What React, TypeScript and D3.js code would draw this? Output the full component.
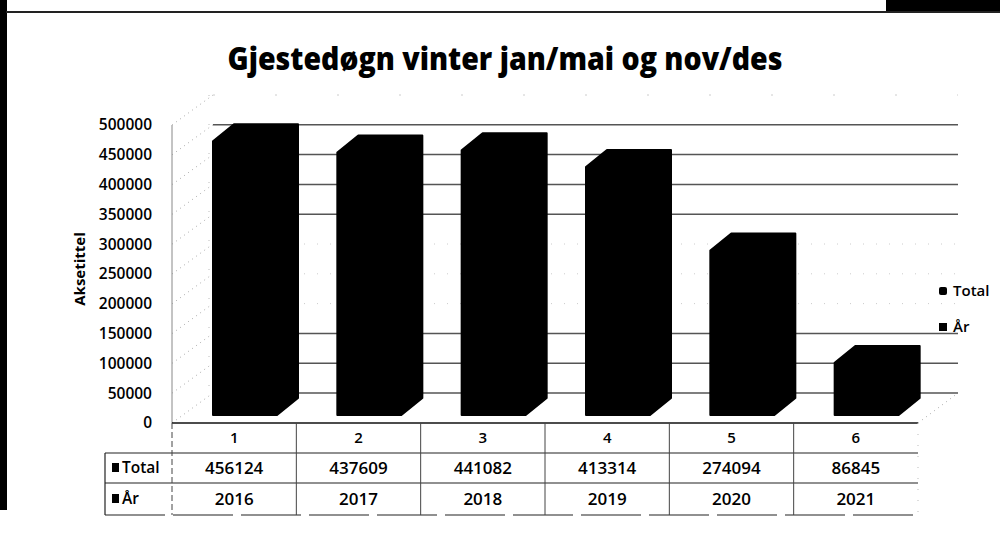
import { useEffect, useRef } from 'react';
import * as d3 from 'd3';

const categories = ['1', '2', '3', '4', '5', '6'];
const totals = [456124, 437609, 441082, 413314, 274094, 86845];
const years = ['2016', '2017', '2018', '2019', '2020', '2021'];
const seriesNames = ['Total', 'År'];
const titleText = 'Gjestedøgn vinter jan/mai og nov/des';
const axisTitle = 'Aksetittel';
// gridlines that barely survived the scan
const faintTicks = [150000, 200000, 250000];

const W = 1000;
const H = 539;
const FONT = '"Open Sans", sans-serif';

const App: React.FC = () => {
  const svgRef = useRef<SVGSVGElement>(null);

  useEffect(() => {
    if (!svgRef.current) return;
    const svg = d3.select(svgRef.current);
    svg.selectAll('*').remove();

    const x = d3.scaleBand<string>().domain(categories).range([172, 918]);
    const yFront = d3.scaleLinear().domain([0, 500000]).range([423, 125]);
    const yWall = d3.scaleLinear().domain([0, 500000]).range([393, 95]);
    const yBar = d3.scaleLinear().domain([0, 500000]).range([415, 115]);
    const ticks = yFront.ticks(10);

    const wallLeft = 213, wallRight = 958;
    const barOffset = 41, barW = 64, depthX = 21, depthY = 17;
    const tableLeft = 105;
    const rowY = [423, 453, 483, 515];

    // scan frame
    svg.append('rect').attr('x', 0).attr('y', 0).attr('width', 7).attr('height', 510).attr('fill', '#000');
    svg.append('rect').attr('x', 886).attr('y', 0).attr('width', 114).attr('height', 11).attr('fill', '#000');
    svg.append('line')
      .attr('x1', 6).attr('x2', W).attr('y1', 12).attr('y2', 12)
      .attr('stroke', '#222').attr('stroke-width', 2);

    // title
    svg.append('text')
      .attr('x', 505).attr('y', 70)
      .attr('text-anchor', 'middle')
      .attr('textLength', 555).attr('lengthAdjust', 'spacingAndGlyphs')
      .style('font-family', FONT).style('font-weight', 800).style('font-size', '31px')
      .text(titleText);

    // back wall grid
    const grid = svg.append('g');
    ticks.filter(t => t < 500000).forEach(t => {
      const faint = faintTicks.includes(t);
      grid.append('line')
        .attr('x1', wallLeft).attr('x2', wallRight)
        .attr('y1', yWall(t)).attr('y2', yWall(t))
        .attr('stroke', faint ? '#ccc' : '#555')
        .attr('stroke-width', faint ? 1 : 1.5)
        .attr('stroke-dasharray', faint ? '1,12' : null);
    });
    grid.append('line')
      .attr('x1', wallLeft).attr('x2', wallRight)
      .attr('y1', yWall(500000)).attr('y2', yWall(500000))
      .attr('stroke', '#ccc').attr('stroke-dasharray', '2,60');
    grid.append('line')
      .attr('x1', wallLeft - 4).attr('x2', wallLeft - 4)
      .attr('y1', yWall(500000)).attr('y2', yWall(0))
      .attr('stroke', '#bbb').attr('stroke-dasharray', '1,28');

    // depth diagonals from front axis to wall
    ticks.forEach(t => {
      grid.append('line')
        .attr('x1', 172).attr('y1', yFront(t))
        .attr('x2', wallLeft).attr('y2', yWall(t))
        .attr('stroke', '#aaa').attr('stroke-width', 1)
        .attr('stroke-dasharray', '1,4');
    });
    grid.append('line')
      .attr('x1', 918).attr('y1', yFront(0))
      .attr('x2', wallRight).attr('y2', yWall(0))
      .attr('stroke', '#aaa').attr('stroke-dasharray', '1,4');

    // front value axis
    svg.append('line')
      .attr('x1', 172).attr('x2', 172)
      .attr('y1', yFront(500000)).attr('y2', yFront(0))
      .attr('stroke', '#888').attr('stroke-width', 1);

    svg.append('g').selectAll('text')
      .data(ticks)
      .enter().append('text')
      .attr('x', 152)
      .attr('y', d => yFront(d))
      .attr('dy', '0.35em')
      .attr('text-anchor', 'end')
      .style('font-family', FONT).style('font-weight', 600).style('font-size', '15.5px')
      .text(d => String(d));

    svg.append('text')
      .attr('transform', 'translate(80,269) rotate(-90)')
      .attr('text-anchor', 'middle')
      .attr('dy', '0.35em')
      .style('font-family', FONT).style('font-weight', 700).style('font-size', '15px')
      .text(axisTitle);

    // 3D columns, all faces black
    svg.append('g').selectAll('path')
      .data(totals)
      .enter().append('path')
      .attr('d', (v, i) => {
        const x0 = (x(categories[i]) as number) + barOffset;
        const x1 = x0 + barW;
        const yt = yBar(v), yb = yBar(0);
        return `M${x0},${yb} L${x0},${yt} L${x0 + depthX},${yt - depthY} L${x1 + depthX},${yt - depthY}`
          + ` L${x1 + depthX},${yb - depthY} L${x1},${yb} Z`;
      })
      .attr('fill', '#000')
      .attr('stroke', '#000').attr('stroke-width', 2).attr('stroke-linejoin', 'round');

    // data table
    const table = svg.append('g');
    table.append('line')
      .attr('x1', 172).attr('x2', 918).attr('y1', rowY[0]).attr('y2', rowY[0])
      .attr('stroke', '#111').attr('stroke-width', 1.5);
    rowY.slice(1).forEach((y, i) => {
      table.append('line')
        .attr('x1', tableLeft).attr('x2', 918).attr('y1', y).attr('y2', y)
        .attr('stroke', '#222').attr('stroke-width', 1.2)
        .attr('stroke-dasharray', i === 2 ? '60,8' : null);
    });
    table.append('line')
      .attr('x1', tableLeft).attr('x2', tableLeft).attr('y1', rowY[1]).attr('y2', rowY[3])
      .attr('stroke', '#222').attr('stroke-width', 1.2);
    const bounds = categories.map(c => x(c) as number).concat([918]);
    bounds.forEach((bx, i) => {
      const last = i === bounds.length - 1;
      table.append('line')
        .attr('x1', bx).attr('x2', bx).attr('y1', rowY[0]).attr('y2', rowY[3])
        .attr('stroke', last ? '#bbb' : '#444').attr('stroke-width', 1)
        .attr('stroke-dasharray', last ? '1,10' : (i === 0 ? '6,3' : null));
    });

    const bw = x.bandwidth();
    const rowText = (vals: string[], yc: number, size: number) => {
      table.append('g').selectAll('text')
        .data(vals)
        .enter().append('text')
        .attr('x', (_d, i) => (x(categories[i]) as number) + bw / 2)
        .attr('y', yc)
        .attr('dy', '0.35em')
        .attr('text-anchor', 'middle')
        .style('font-family', FONT).style('font-weight', 600).style('font-size', `${size}px`)
        .text(d => d);
    };
    rowText(categories, 438, 15);
    rowText(totals.map(String), 468, 17);
    rowText(years, 499, 17);

    seriesNames.forEach((name, i) => {
      const yc = (rowY[i + 1] + rowY[i + 2]) / 2;
      table.append('rect')
        .attr('x', 112).attr('y', yc - 5).attr('width', 7).attr('height', 9).attr('fill', '#000');
      table.append('text')
        .attr('x', 122).attr('y', yc).attr('dy', '0.35em')
        .style('font-family', FONT).style('font-weight', 600).style('font-size', '15.5px')
        .text(name);
    });

    // legend
    const legendY = [291, 327];
    seriesNames.forEach((name, i) => {
      svg.append('rect')
        .attr('x', 939).attr('y', legendY[i] - 4).attr('width', 8).attr('height', 8)
        .attr('rx', i === 0 ? 2 : 0)
        .attr('fill', '#000');
      svg.append('text')
        .attr('x', 953).attr('y', legendY[i]).attr('dy', '0.35em')
        .style('font-family', FONT).style('font-weight', 600).style('font-size', '15px')
        .text(name);
    });
  }, []);

  return (
    <svg
      ref={svgRef}
      width={W}
      height={H}
      style={{ position: 'absolute', left: 0, top: 0, background: '#fff' }}
    />
  );
};

export default App;
